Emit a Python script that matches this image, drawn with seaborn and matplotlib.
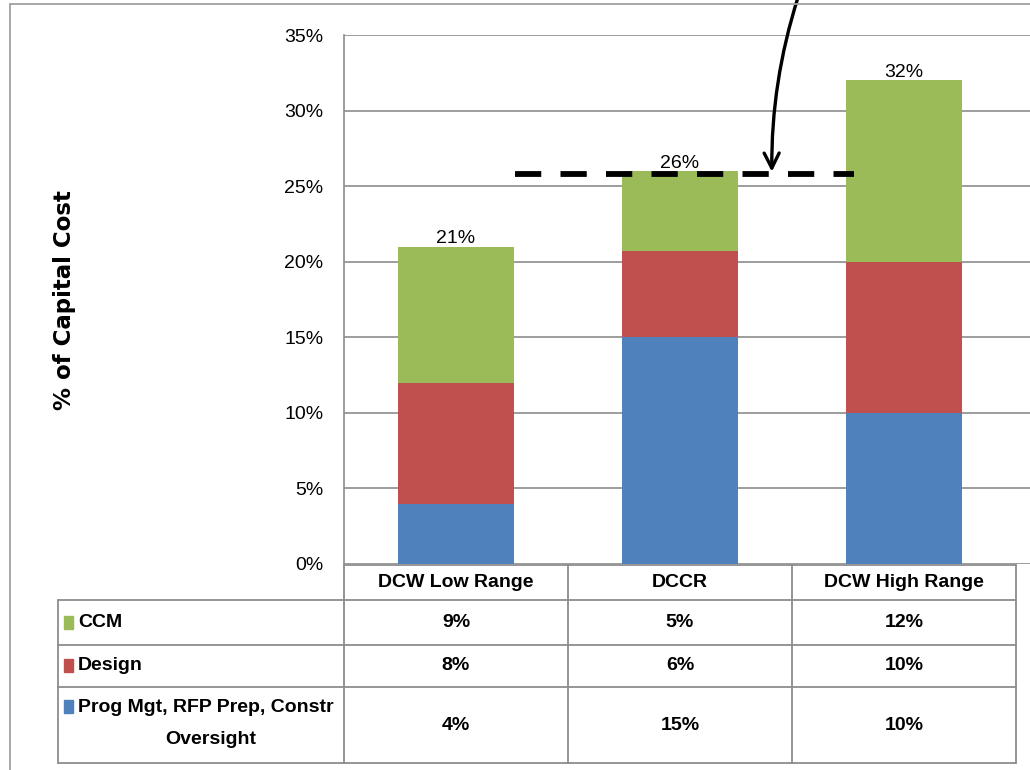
import numpy as np
import pandas as pd
import matplotlib
matplotlib.use("Agg")
import matplotlib.pyplot as plt
import seaborn as sns

# data
scenarios = ["DCW Low Range", "DCCR", "DCW High Range"]
prog_mgt = [4, 15, 10]
design = [8, 5.7, 10]
ccm = [9, 5.3, 12]
series_names = ["CCM", "Design", "Prog Mgt, RFP Prep, Constr\nOversight"]
yticks = [0, 5, 10, 15, 20, 25, 30, 35]
benchmark = 25.8

blue, red, green = "#4F81BD", "#C0504D", "#9BBB59"

sns.set_theme(style="white")
plt.rcParams['font.family'] = ['Liberation Sans', 'DejaVu Sans']
plt.rcParams['text.color'] = "black"
plt.rcParams['ytick.color'] = "black"

W, H = 1030, 770
fig = plt.figure(figsize=(W / 100, H / 100), dpi=100)

def px(x0, y0, x1, y1):
    return [x0 / W, 1 - y1 / H, (x1 - x0) / W, (y1 - y0) / H]

ax = fig.add_axes(px(344, 35, 1030, 564))

df = pd.DataFrame({"scenario": scenarios, "prog": prog_mgt,
                   "design": design, "ccm": ccm})
df["lvl2"] = df["prog"] + df["design"]
df["total"] = df["lvl2"] + df["ccm"]

# stacked by overlaying cumulative totals
for col, c in [("total", green), ("lvl2", red), ("prog", blue)]:
    sns.barplot(data=df, x="scenario", y=col, color=c, width=0.515,
                saturation=1, ax=ax, zorder=3, edgecolor="none")

for i, t in enumerate(df["total"]):
    ax.text(i, t - 0.05, f"{t:.0f}%", ha="center", va="bottom", fontsize=14)

ax.set_xlim(-0.5, -0.5 + (1030 - 344) / 224)
ax.set_ylim(0, 35)
ax.set_yticks(yticks)
ax.set_yticklabels([f"{v}%" for v in yticks], fontsize=14)
ax.tick_params(axis="y", length=0, pad=15)
ax.set_xticks([])
ax.set_xlabel("")
ax.set_ylabel("")
ax.grid(axis="y", color="#8c8c8c", lw=1.2, zorder=0)
for s in ["top", "right", "bottom"]:
    ax.spines[s].set_visible(False)
ax.spines["left"].set_color("#8c8c8c")
ax.spines["left"].set_linewidth(1.2)

# benchmark dashed line and arrow
ax.plot([0.263, 1.775], [benchmark, benchmark], color="black", lw=4.2,
        linestyle=(0, (4.5, 3.3)), zorder=5, clip_on=False,
        solid_capstyle="butt", dash_capstyle="butt")
ax.annotate("", xy=(1.41, 25.95), xytext=(1.527, 37.5),
            arrowprops=dict(arrowstyle="->,head_length=0.9,head_width=0.45",
                            lw=2.4, color="black",
                            connectionstyle="arc3,rad=0.08",
                            shrinkA=0, shrinkB=0),
            annotation_clip=False)

fig.text(65 / W, 1 - 300 / H, "% of Capital Cost", rotation=90, ha="center",
         va="center", fontsize=16.5, fontweight="bold", family="DejaVu Sans")

# data table
tab = fig.add_axes([0, 0, 1, 1], facecolor="none")
tab.set_xlim(0, W)
tab.set_ylim(H, 0)
tab.axis("off")
lc = "#8c8c8c"
cols = [344, 568, 792, 1016]
rows = [565, 600, 645, 687, 763]
tab.plot([344, 1016], [rows[0], rows[0]], color=lc, lw=1.3)
for y in rows[1:]:
    tab.plot([58, 1016], [y, y], color=lc, lw=1.3)
tab.plot([58, 58], [rows[1], rows[-1]], color=lc, lw=1.3)
for x in cols:
    tab.plot([x, x], [rows[0], rows[-1]], color=lc, lw=1.3)

tfont = dict(fontsize=14, fontweight="bold")
for j, name in enumerate(scenarios):
    tab.text((cols[j] + cols[j + 1]) / 2, (rows[0] + rows[1]) / 2, name,
             ha="center", va="center", **tfont)

table_vals = [ccm, design, prog_mgt]
row_colors = [green, red, blue]
for r, (name, vals, c) in enumerate(zip(series_names, table_vals, row_colors)):
    y0, y1 = rows[r + 1], rows[r + 2]
    ym = (y0 + y1) / 2
    ysq = ym if "\n" not in name else y0 + 20
    tab.add_patch(plt.Rectangle((64, ysq - 7), 9, 13, color=c))
    if "\n" in name:
        first, second = name.split("\n")
        tab.text(78, ysq, first, ha="left", va="center", **tfont)
        tab.text(211, y0 + 53, second, ha="center", va="center", **tfont)
    else:
        tab.text(78, ym, name, ha="left", va="center", **tfont)
    for j, v in enumerate(vals):
        tab.text((cols[j] + cols[j + 1]) / 2, ym, f"{v:.0f}%",
                 ha="center", va="center", **tfont)

# outer frame
tab.plot([10, 10], [4, H], color="#a0a0a0", lw=1.3)
tab.plot([10, W], [4, 4], color="#a0a0a0", lw=1.3)

fig.savefig("out.png", dpi=100)
